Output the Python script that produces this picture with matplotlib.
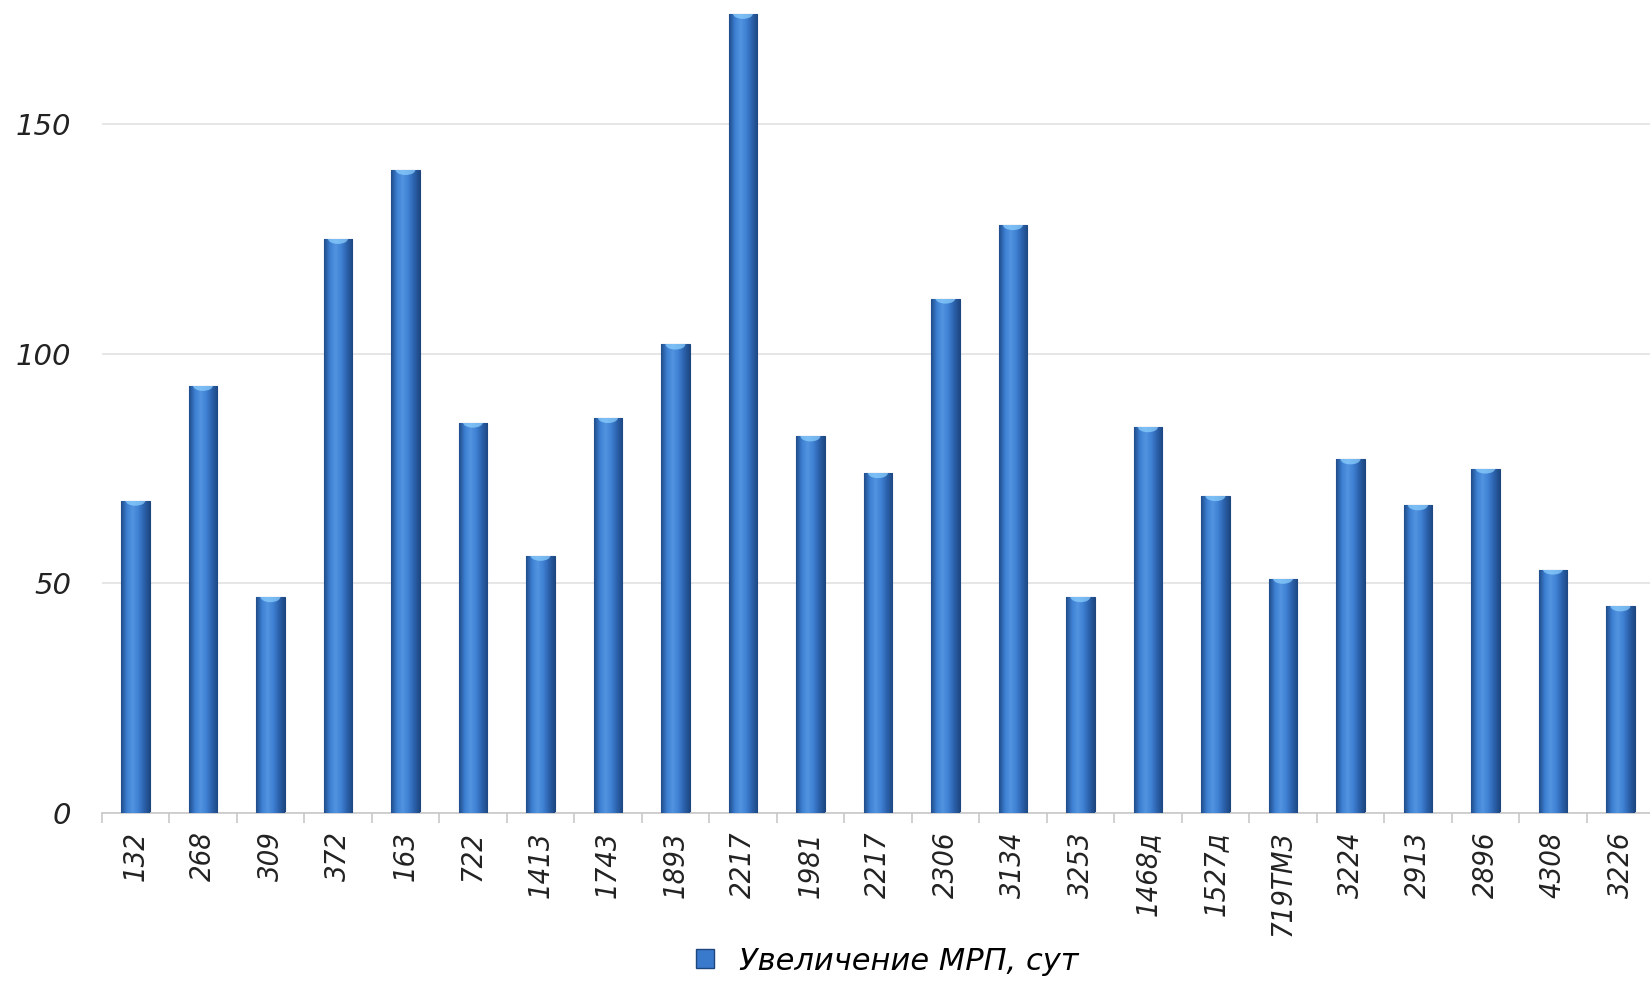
import matplotlib
matplotlib.use("Agg")
import matplotlib.pyplot as plt
import numpy as np
from matplotlib.colors import LinearSegmentedColormap
from matplotlib.patches import Ellipse, Patch

# wells and MTBF increase, days
wells = ["132", "268", "309", "372", "163", "722", "1413", "1743", "1893", "2217",
         "1981", "2217", "2306", "3134", "3253", "1468д", "1527д", "719ТМЗ",
         "3224", "2913", "2896", "4308", "3226"]
gain = [68, 93, 47, 125, 140, 85, 56, 86, 102, 174,
        82, 74, 112, 128, 47, 84, 69, 51, 77, 67, 75, 53, 45]
yticks = [0, 50, 100, 150]
series_name = "Увеличение МРП, сут"

matplotlib.rcParams['font.family'] = ['DejaVu Sans']

fig = plt.figure(figsize=(16.5, 9.82), dpi=100)
ax = fig.add_axes([101.7 / 1650, 1 - 813 / 982, 1552.5 / 1650, 813 / 982])

x = np.arange(len(wells))
w = 0.42
bars = ax.bar(x, gain, width=w, color="#3a7acc", edgecolor="#1d467f", linewidth=0.8, zorder=2)

# cylinder-like shading across each bar
shade = LinearSegmentedColormap.from_list(
    "shade", ["#1f4c8a", "#3d7fd2", "#5294e0", "#3f81d3", "#2c62ac", "#1d4882"])
grad = np.linspace(0, 1, 64).reshape(1, -1)
for b, v in zip(bars, gain):
    x0 = b.get_x()
    im = ax.imshow(grad, cmap=shade, aspect="auto", extent=[x0, x0 + w, 0, v],
                   interpolation="bicubic", zorder=3)
    im.set_clip_path(b)
    cap = Ellipse((x0 + w / 2, v), w * 0.7, 2.2, facecolor="#8fd2ff",
                  edgecolor="none", alpha=0.7, zorder=4)
    ax.add_patch(cap)
    cap.set_clip_path(b)

ax.set_xlim(-0.5, len(wells) - 0.5)
ax.set_ylim(0, 177)

ax.set_yticks(yticks)
ax.set_yticklabels([str(t) for t in yticks], fontsize=21, style="italic", color="#222222")
ax.tick_params(axis="y", length=0, pad=22)
ax.yaxis.grid(True, color="#e2e2e2", linewidth=1.2, zorder=0)
ax.set_axisbelow(True)

ax.set_xticks(x)
ax.set_xticklabels(wells, rotation=90, fontsize=21, style="italic", fontstretch="condensed",
                   color="#222222", va="top")
ax.set_xticks(np.arange(-0.5, len(wells)), minor=True)
ax.tick_params(axis="x", which="major", length=0, pad=13)
ax.tick_params(axis="x", which="minor", length=7, color="#c8c8c8", width=1.2)

for s in ["top", "right", "left"]:
    ax.spines[s].set_visible(False)
ax.spines["bottom"].set_color("#c8c8c8")
ax.spines["bottom"].set_linewidth(1.2)

handle = Patch(facecolor="#3a7acc", edgecolor="#1d467f")
fig.legend([handle], [series_name], loc="center", bbox_to_anchor=(887 / 1650, 1 - 961 / 982),
           frameon=False, prop={"size": 22, "style": "italic"}, handlelength=0.6,
           handleheight=0.6, handletextpad=0.8)

fig.savefig("out.png", dpi=100)
